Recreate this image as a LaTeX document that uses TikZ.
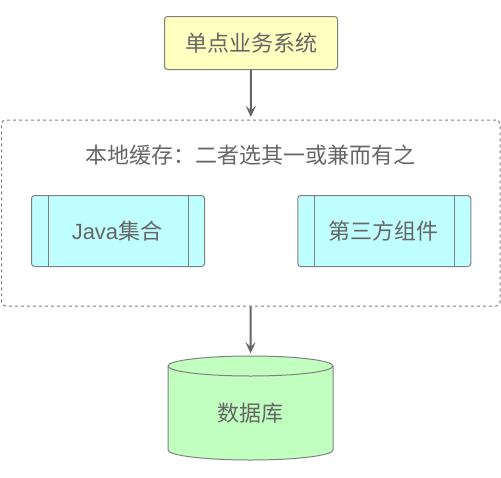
\documentclass[tikz,border=0pt]{standalone}
\usepackage{fontspec}
\setmainfont{Liberation Sans}
\newfontfamily\cjk{Noto Sans CJK SC}
\usetikzlibrary{arrows.meta}
\definecolor{txt}{HTML}{666666}
\definecolor{edge}{HTML}{808080}
\definecolor{yellowfill}{HTML}{FFFFC0}
\definecolor{cyanfill}{HTML}{C0FFFF}
\definecolor{greenfill}{HTML}{C0FFC0}
\tikzset{
  lbl/.style={text=txt,font=\fontsize{22}{24}\selectfont,inner sep=0pt},
  topbox/.style={lbl,draw=edge,line width=1pt,fill=yellowfill,rounded corners=3pt,minimum width=173pt,minimum height=53pt},
  procbox/.style={lbl,draw=edge,line width=1pt,fill=cyanfill,rounded corners=3pt,minimum width=173pt,minimum height=71pt},
  groupbox/.style={draw=edge,line width=1pt,dash pattern=on 3pt off 3pt,rounded corners=4pt,minimum width=498.5pt,minimum height=186pt,inner sep=0pt},
  dbanchor/.style={inner sep=0pt,minimum width=165pt,minimum height=104pt},
  dbbody/.style={draw=edge,line width=1pt,fill=greenfill},
  conn/.style={draw=txt,line width=2pt,shorten >=2.5pt,-{Stealth[length=11pt,width=10pt,inset=4.5pt]}},
  inner/.style={draw=edge,line width=1pt},
}
\begin{document}
\begin{tikzpicture}[x=1pt,y=-1pt]
\useasboundingbox (0,0) rectangle (501,477);
\node[topbox] (app) at (251,43) {\cjk 单点业务系统};
\node[groupbox] (group) at (250.75,213) {};
\node[lbl] (title) at (250,155) {\cjk 本地缓存：二者选其一或兼而有之};
\node[procbox] (java) at (118,231) {\kern-2pt Java\cjk 集合};
\node[procbox] (third) at (384.25,231) {\kern-2pt\cjk 第三方组件};
\foreach \n in {java,third}{
  \draw[inner] ([xshift=17pt]\n.north west) -- ([xshift=17pt]\n.south west);
  \draw[inner] ([xshift=-17pt]\n.north east) -- ([xshift=-17pt]\n.south east);
}
\draw[dbbody] (168,366) arc[start angle=180,end angle=0,x radius=82.5pt,y radius=10pt]
  -- (333,450) arc[start angle=0,end angle=-180,x radius=82.5pt,y radius=10pt] -- cycle;
\draw[dbbody,fill=none] (168,366) arc[start angle=180,end angle=360,x radius=82.5pt,y radius=10pt];
\node[dbanchor] (db) at (250.5,408) {};
\node[lbl] (dbtext) at (250.5,413) {\cjk 数据库};
\draw[conn] (app.south) -- (group.north);
\draw[conn] (group.south) -- (db.north);
\end{tikzpicture}
\end{document}
